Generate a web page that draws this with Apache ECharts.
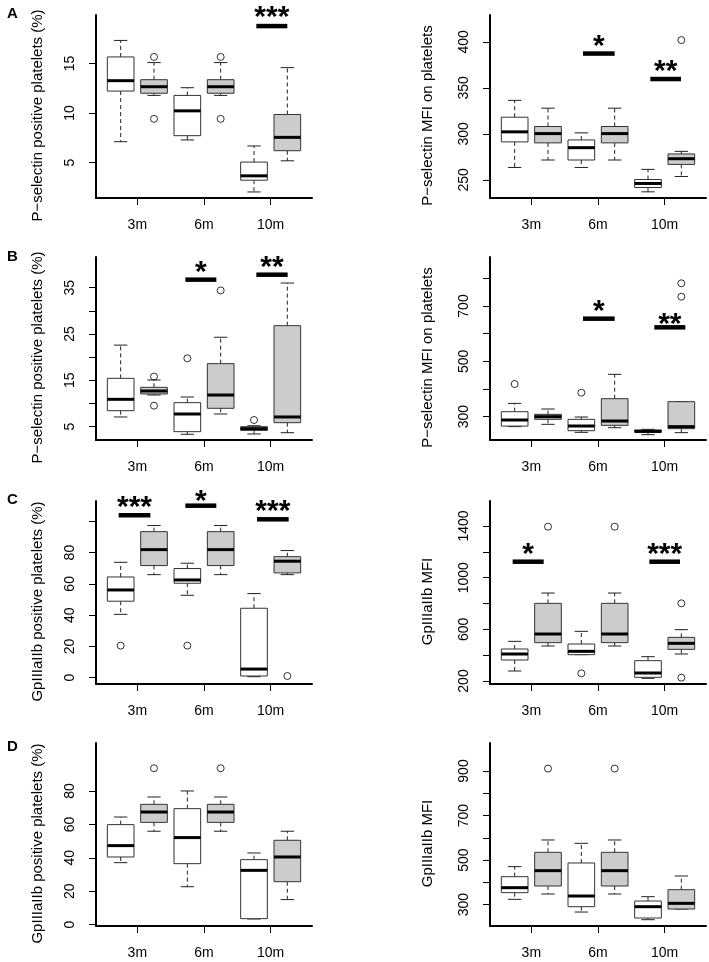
<!DOCTYPE html>
<html><head><meta charset="utf-8">
<script src="https://cdn.jsdelivr.net/npm/echarts@6/dist/echarts.min.js"></script>
<style>html,body{margin:0;padding:0;background:#fff}#c{width:709px;height:962px}</style>
</head><body><div id="c"></div>
<script>
// ---------------- data ----------------
const xTickPositions = [1.5, 3.5, 5.5];
const xTickLabels = ['3m', '6m', '10m'];
const boxPositions = [1, 2, 3, 4, 5, 6];
const boxGroup = [0, 1, 0, 1, 0, 1];   // 0 = white box, 1 = grey box

// box stats per box: [lower whisker, Q1, median, Q3, upper whisker]
const statsA1 = [[7.1, 12.22, 13.27, 15.67, 17.34], [11.78, 12.0, 12.66, 13.37, 15.1], [7.28, 7.71, 10.22, 11.78, 12.56], [11.78, 12.0, 12.66, 13.37, 15.1], [2.02, 3.21, 3.65, 5.04, 6.67], [5.17, 6.19, 7.54, 9.85, 14.59]];
const outliersA1 = [[2, 15.67], [2, 9.41], [4, 15.67], [4, 9.41]];
const sigA1 = [[5.07, 6.0, 18.79, 19.9, '***']];
const yTicksA1 = [5, 10, 15];
const yLabelsA1 = [5, 10, 15];

const statsA2 = [[263.5, 291.3, 302.2, 318.1, 336.4], [271.6, 290.2, 300.3, 308.0, 327.9], [263.5, 271.6, 285.0, 293.4, 301.1], [271.6, 290.2, 300.3, 308.0, 327.9], [237.0, 241.7, 246.1, 250.4, 261.4], [253.7, 266.8, 273.0, 278.2, 281.0]];
const outliersA2 = [[6, 401.9]];
const sigA2 = [[3.05, 4.0, 387.3, 398.3, '*'], [5.07, 5.99, 359.6, 371, '**']];
const yTicksA2 = [250, 300, 350, 400];
const yLabelsA2 = [250, 300, 350, 400];

const statsB1 = [[7.09, 8.45, 10.9, 15.43, 22.6], [11.83, 12.05, 12.7, 13.49, 15.07], [3.35, 3.92, 7.73, 10.18, 11.4], [7.73, 8.96, 11.83, 18.6, 24.3], [3.42, 4.2, 4.57, 5.0, 5.2], [3.7, 5.86, 7.09, 26.8, 36.0]];
const outliersB1 = [[2, 15.8], [2, 9.53], [3, 19.75], [4, 34.4], [5, 6.44]];
const sigB1 = [[2.94, 3.87, 36.73, 38.8, '*'], [5.07, 6.01, 37.8, 39.9, '**']];
const yTicksB1 = [5, 10, 15, 20, 25, 30, 35];
const yLabelsB1 = [5, 15, 25, 35];

const statsB2 = [[264, 266, 288, 318, 348], [272.3, 290.4, 300, 308.4, 327.7], [243.4, 249.4, 266.3, 290.4, 298.8], [260.2, 268.7, 284.3, 365, 453], [235, 243.4, 247, 251.8, 254.2], [242.2, 256.6, 263.9, 354.2, 354.2]];
const outliersB2 = [[1, 418], [3, 386.7], [6, 782], [6, 733.7]];
const sigB2 = [[3.05, 4.0, 654.2, 691.7, '*'], [5.19, 6.12, 622.9, 643.2, '**']];
const yTicksB2 = [300, 400, 500, 600, 700, 800];
const yLabelsB2 = [300, 500, 700];

const statsC1 = [[40.5, 48.9, 56.1, 64.4, 73.8], [65.9, 71.7, 81.9, 93.4, 97.3], [52.7, 60.4, 62.5, 69.8, 73.2], [65.9, 71.7, 81.9, 93.4, 97.3], [0.6, 1.07, 5.5, 44.4, 53.8], [65.9, 67.0, 74.5, 77.4, 81.3]];
const outliersC1 = [[1, 20.5], [3, 20.5], [6, 1.07]];
const sigC1 = [[0.94, 1.89, 103.9, 110.5, '***'], [2.94, 3.87, 110.0, 114.7, '*'], [5.09, 6.04, 101.3, 107.9, '***']];
const yTicksC1 = [0, 20, 40, 60, 80, 100];
const yLabelsC1 = [0, 20, 40, 60, 80];

const statsC2 = [[277.4, 362.6, 409, 447.7, 507], [471, 496.8, 563.9, 801.3, 881], [403.9, 403.9, 429.7, 486.5, 584.5], [471, 496.8, 563.9, 801.3, 881], [220.6, 228.4, 261.9, 357.4, 388.4], [409, 445.2, 491.6, 538, 597.4]];
const outliersC2 = [[2, 1394.8], [3, 259.4], [4, 1394.8], [6, 801.3], [6, 225.8]];
const sigC2 = [[0.94, 1.87, 1123.6, 1201, '*'], [5.04, 5.96, 1123.6, 1201, '***']];
const yTicksC2 = [200, 400, 600, 800, 1000, 1200, 1400];
const yLabelsC2 = [200, 600, 1000, 1400];

const statsD1 = [[37.1, 40.5, 47.3, 59.85, 64.4], [55.9, 61.2, 67.4, 72, 76.4], [22.7, 36.5, 52.1, 69.4, 80], [55.9, 61.2, 67.4, 72, 76.4], [3.4, 3.6, 32.5, 38.9, 42.9], [15, 25.7, 40.5, 50.5, 55.9]];
const outliersD1 = [[2, 93.6], [4, 93.6]];
const sigD1 = [];
const yTicksD1 = [0, 20, 40, 60, 80];
const yLabelsD1 = [0, 20, 40, 60, 80];

const statsD2 = [[324, 353.9, 376.3, 425.7, 470.7], [347.9, 383.8, 452.7, 535, 590.4], [267, 291, 338.9, 487.1, 575.4], [347.9, 383.8, 452.7, 535, 590.4], [232.6, 240.1, 291, 316.5, 335.9], [280.5, 280.5, 306, 367.4, 428.7]];
const outliersD2 = [[2, 910.8], [4, 910.8]];
const sigD2 = [];
const yTicksD2 = [300, 400, 500, 600, 700, 800, 900];
const yLabelsD2 = [300, 500, 700, 900];

const titleLeftP = 'P\u2212selectin positive platelets (%)';
const titleRightP = 'P\u2212selectin MFI on platelets';
const titleLeftG = 'GpIIIaIIb positive platelets (%)';
const titleRightG = 'GpIIIaIIb MFI';
const panelLetters = ['A', 'B', 'C', 'D'];

// ---------------- layout / style ----------------
const FONT = "'Liberation Sans', Arial, Helvetica, sans-serif";
const BOX_W = 0.8, STAPLE_W = 0.4;
const FILLS = ['#ffffff', '#cccccc'];
const rowTops = [15, 257, 501, 743];
const rowH = 183;
const colLefts = [96, 490];
const colW = 216;
const letterTops = [1, 244, 487, 734];

const panels = [
  {row: 0, col: 0, stats: statsA1, out: outliersA1, sig: sigA1, ticks: yTicksA1, labels: yLabelsA1, min: 1.41, max: 19.91, name: titleLeftP},
  {row: 0, col: 1, stats: statsA2, out: outliersA2, sig: sigA2, ticks: yTicksA2, labels: yLabelsA2, min: 230.3, max: 429.2, name: titleRightP},
  {row: 1, col: 0, stats: statsB1, out: outliersB1, sig: sigB1, ticks: yTicksB1, labels: yLabelsB1, min: 2.12, max: 41.62, name: titleLeftP},
  {row: 1, col: 1, stats: statsB2, out: outliersB2, sig: sigB2, ticks: yTicksB2, labels: yLabelsB2, min: 215.7, max: 877.1, name: titleRightP},
  {row: 2, col: 0, stats: statsC1, out: outliersC1, sig: sigC1, ticks: yTicksC1, labels: yLabelsC1, min: -4.05, max: 113.0, name: titleLeftG},
  {row: 2, col: 1, stats: statsC2, out: outliersC2, sig: sigC2, ticks: yTicksC2, labels: yLabelsC2, min: 176.8, max: 1593.5, name: titleRightG},
  {row: 3, col: 0, stats: statsD1, out: outliersD1, sig: sigD1, ticks: yTicksD1, labels: yLabelsD1, min: -0.8, max: 108.7, name: titleLeftG},
  {row: 3, col: 1, stats: statsD2, out: outliersD2, sig: sigD2, ticks: yTicksD2, labels: yLabelsD2, min: 204.3, max: 1025.7, name: titleRightG}
];

function renderBox(params, api) {
  const P = (a, b) => api.coord([a, b]);
  const x = api.value(0);
  const lo = api.value(1), q1 = api.value(2), md = api.value(3), q3 = api.value(4), hi = api.value(5);
  const g = api.value(6);
  const hw = BOX_W / 2, sw = STAPLE_W / 2;
  const dash = {stroke: '#222', lineWidth: 1, lineDash: [4, 3], fill: null};
  const solid = {stroke: '#222', lineWidth: 1, fill: null};
  const a = P(x, q3), b = P(x, hi), c = P(x, q1), d = P(x, lo);
  const s1 = P(x - sw, hi), s2 = P(x + sw, hi), s3 = P(x - sw, lo), s4 = P(x + sw, lo);
  const tl = P(x - hw, q3), br = P(x + hw, q1);
  const m1 = P(x - hw, md), m2 = P(x + hw, md);
  return {type: 'group', children: [
    {type: 'line', shape: {x1: a[0], y1: a[1], x2: b[0], y2: b[1]}, style: dash},
    {type: 'line', shape: {x1: c[0], y1: c[1], x2: d[0], y2: d[1]}, style: dash},
    {type: 'line', shape: {x1: s1[0], y1: s1[1], x2: s2[0], y2: s2[1]}, style: solid},
    {type: 'line', shape: {x1: s3[0], y1: s3[1], x2: s4[0], y2: s4[1]}, style: solid},
    {type: 'rect', shape: {x: tl[0], y: tl[1], width: br[0] - tl[0], height: br[1] - tl[1]},
      style: {fill: FILLS[g], stroke: '#333', lineWidth: 1}},
    {type: 'line', shape: {x1: m1[0], y1: m1[1], x2: m2[0], y2: m2[1]}, style: {stroke: '#000', lineWidth: 3}}
  ]};
}

function sigRenderer(sigArr) {
  return function (params, api) {
    const x1 = api.value(0), x2 = api.value(1), yb = api.value(2), ys = api.value(3);
    const a = api.coord([x1, yb]), b = api.coord([x2, yb]);
    const t = api.coord([(x1 + x2) / 2, ys]);
    const txt = sigArr[params.dataIndex][4];
    return {type: 'group', children: [
      {type: 'line', shape: {x1: a[0], y1: a[1], x2: b[0], y2: b[1]}, style: {stroke: '#000', lineWidth: 4.5}},
      {type: 'text', x: t[0], y: t[1] + 3, style: {text: txt, fill: '#000', font: 'bold 30px ' + FONT,
        align: 'center', verticalAlign: 'middle', textAlign: 'center', textVerticalAlign: 'middle'}}
    ]};
  };
}

const grid = [], xAxis = [], yAxis = [], series = [];
panels.forEach((p, i) => {
  grid.push({left: colLefts[p.col], top: rowTops[p.row], width: colW, height: rowH});
  xAxis.push({
    type: 'value', gridIndex: i, min: 0.26, max: 6.74, splitLine: {show: false},
    axisLine: {show: true, onZero: false, lineStyle: {color: '#000', width: 2}},
    axisTick: {show: true, length: 7, customValues: xTickPositions, lineStyle: {color: '#000', width: 1}},
    axisLabel: {show: true, customValues: xTickPositions, margin: 20, color: '#000', fontSize: 14, fontFamily: FONT,
      formatter: v => xTickLabels[xTickPositions.indexOf(v)] || ''}
  });
  yAxis.push({
    type: 'value', gridIndex: i, min: p.min, max: p.max, splitLine: {show: false},
    axisLine: {show: true, onZero: false, lineStyle: {color: '#000', width: 2}},
    axisTick: {show: true, length: 7, customValues: p.ticks, lineStyle: {color: '#000', width: 1}},
    axisLabel: {show: true, customValues: p.labels, rotate: 90, margin: 19, color: '#000', fontSize: 14, fontFamily: FONT,
      formatter: v => String(v)},
    name: p.name, nameLocation: 'middle', nameGap: p.col === 0 ? 51 : 55,
    nameTextStyle: {color: '#000', fontSize: 15, fontFamily: FONT, padding: [0, 18, 0, 0]}
  });
  series.push({
    type: 'custom', xAxisIndex: i, yAxisIndex: i, clip: false,
    encode: {x: 0, y: [1, 2, 3, 4, 5]},
    data: boxPositions.map((pos, k) => [pos].concat(p.stats[k]).concat([boxGroup[k]])),
    renderItem: renderBox
  });
  series.push({
    type: 'scatter', xAxisIndex: i, yAxisIndex: i, data: p.out, symbol: 'circle', symbolSize: 7,
    itemStyle: {color: 'rgba(255,255,255,0)', borderColor: '#000', borderWidth: 1}
  });
  if (p.sig.length) {
    series.push({
      type: 'custom', xAxisIndex: i, yAxisIndex: i, clip: false,
      encode: {x: [0, 1], y: [2, 3]},
      data: p.sig.map(s => [s[0], s[1], s[2], s[3]]),
      renderItem: sigRenderer(p.sig)
    });
  }
});

const title = panelLetters.map((L, r) => ({
  text: L, left: 2, top: letterTops[r],
  textStyle: {fontSize: 15, fontWeight: 'bold', color: '#000', fontFamily: FONT}
}));

const chart = echarts.init(document.getElementById('c'), null, {renderer: 'canvas'});
chart.setOption({animation: false, backgroundColor: '#fff', title, grid, xAxis, yAxis, series});
</script></body></html>
